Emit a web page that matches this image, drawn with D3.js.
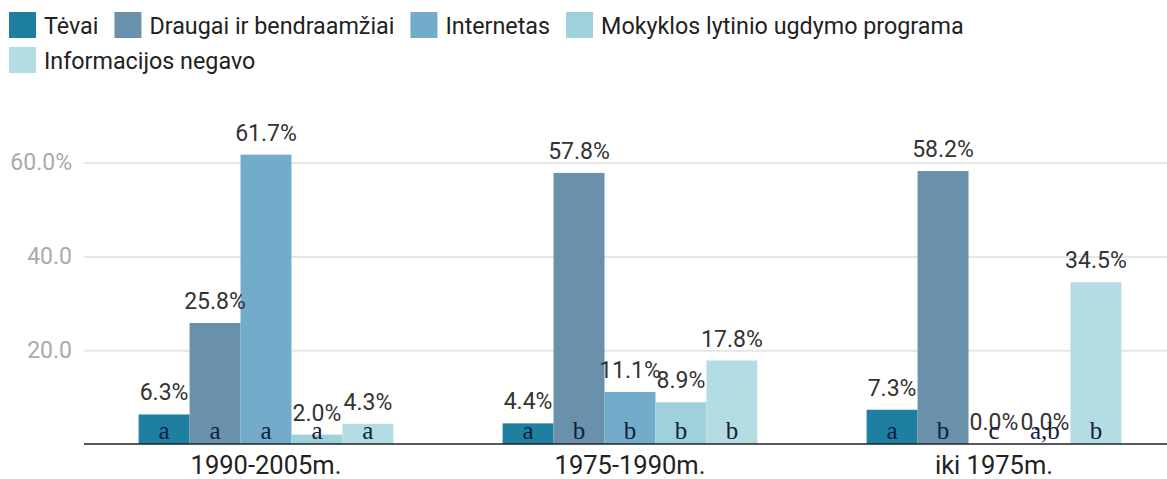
<!DOCTYPE html>
<html>
<head>
<meta charset="utf-8">
<script src="https://cdn.jsdelivr.net/npm/d3@7"></script>
<style>
  body { margin: 0; background: #fff; }
  text { font-family: Roboto, "Noto Sans", sans-serif; }
</style>
</head>
<body>
<svg id="chart"></svg>
<script>
const categories = ["1990-2005m.", "1975-1990m.", "iki 1975m."];
const seriesNames = ["Tėvai", "Draugai ir bendraamžiai", "Internetas", "Mokyklos lytinio ugdymo programa", "Informacijos negavo"];

const tevai = [6.3, 4.4, 7.3];
const draugai = [25.8, 57.8, 58.2];
const internetas = [61.7, 11.1, 0.0];
const mokyklos = [2.0, 8.9, 0.0];
const negavo = [4.3, 17.8, 34.5];

const tevaiLetters = ["a", "a", "a"];
const draugaiLetters = ["a", "b", "b"];
const internetasLetters = ["a", "b", "c"];
const mokyklosLetters = ["a", "b", "a,b"];
const negavoLetters = ["a", "b", "b"];

const yTicks = [20, 40, 60];
const yTickLabels = ["20.0", "40.0", "60.0%"];

const colors = ["#1f7fa1", "#6a91ab", "#73abcb", "#9fd1dc", "#b3dde3"];

const values = [tevai, draugai, internetas, mokyklos, negavo];
const letters = [tevaiLetters, draugaiLetters, internetasLetters, mokyklosLetters, negavoLetters];

const width = 1167, height = 479;

const svg = d3.select("#chart")
    .attr("width", width)
    .attr("height", height);

const x0 = d3.scaleBand()
    .domain(categories)
    .range([84, 1176])
    .paddingInner(0.3)
    .paddingOuter(0.15);

const x1 = d3.scaleBand()
    .domain(seriesNames)
    .range([0, x0.bandwidth()]);

const y = d3.scaleLinear()
    .domain([0, 70])
    .range([444, 444 - 70 * 4.69]);

const color = d3.scaleOrdinal().domain(seriesNames).range(colors);

// gridlines + y labels
const yAxis = svg.append("g")
    .attr("transform", "translate(84,0)")
    .call(d3.axisLeft(y)
        .tickValues(yTicks)
        .tickSize(-(width - 84))
        .tickPadding(12)
        .tickFormat((d, i) => yTickLabels[i]));
yAxis.select(".domain").remove();
yAxis.selectAll(".tick line").attr("stroke", "#e6e6e6").attr("stroke-width", 2);
yAxis.selectAll(".tick text")
    .attr("fill", "#aaaaaa")
    .style("font-size", "23px")
    .style("font-family", "Roboto, sans-serif");

// rows for bars
const rows = [];
categories.forEach((c, ci) => {
    seriesNames.forEach((s, si) => {
        rows.push({cat: c, series: s, value: values[si][ci], letter: letters[si][ci]});
    });
});

const groups = svg.append("g");

groups.selectAll(".bar")
    .data(rows)
    .enter().append("rect")
    .attr("class", "bar")
    .attr("x", d => x0(d.cat) + x1(d.series))
    .attr("y", d => y(d.value))
    .attr("width", x1.bandwidth())
    .attr("height", d => y(0) - y(d.value))
    .attr("fill", d => color(d.series));

groups.selectAll(".val")
    .data(rows)
    .enter().append("text")
    .attr("class", "val")
    .attr("x", d => x0(d.cat) + x1(d.series) + x1.bandwidth() / 2)
    .attr("y", d => y(d.value) - 14)
    .attr("text-anchor", "middle")
    .attr("fill", "#333")
    .style("font-size", "23px")
    .text(d => d.value.toFixed(1) + "%");

groups.selectAll(".letter")
    .data(rows)
    .enter().append("text")
    .attr("class", "letter")
    .attr("x", d => x0(d.cat) + x1(d.series) + x1.bandwidth() / 2)
    .attr("y", 439)
    .attr("text-anchor", "middle")
    .attr("fill", "#102040")
    .style("font-family", "'Liberation Serif', 'DejaVu Serif', serif")
    .style("font-size", "25px")
    .text(d => d.letter);

// x axis
const xAxis = svg.append("g")
    .attr("transform", "translate(0,444)")
    .call(d3.axisBottom(x0).tickSize(0).tickPadding(12));
xAxis.select(".domain").attr("stroke", "#222").attr("stroke-width", 1.5)
    .attr("d", "M84,0H" + width);
xAxis.selectAll(".tick text")
    .attr("fill", "#222")
    .style("font-size", "25.5px")
    .style("font-family", "Roboto, sans-serif");

// legend
const legendRows = [[0, 1, 2, 3], [4]];
const legend = svg.append("g");
legendRows.forEach((row, ri) => {
    let lx = 9;
    row.forEach(si => {
        const item = legend.append("g").attr("transform", `translate(${lx},${12 + ri * 35})`);
        item.append("rect")
            .attr("width", 27).attr("height", 26)
            .attr("fill", colors[si]);
        const t = item.append("text")
            .attr("x", 35).attr("y", 22)
            .attr("fill", "#222")
            .style("font-size", "23.3px")
            .text(seriesNames[si]);
        lx += 35 + t.node().getComputedTextLength() + 16;
    });
});
</script>
</body>
</html>
